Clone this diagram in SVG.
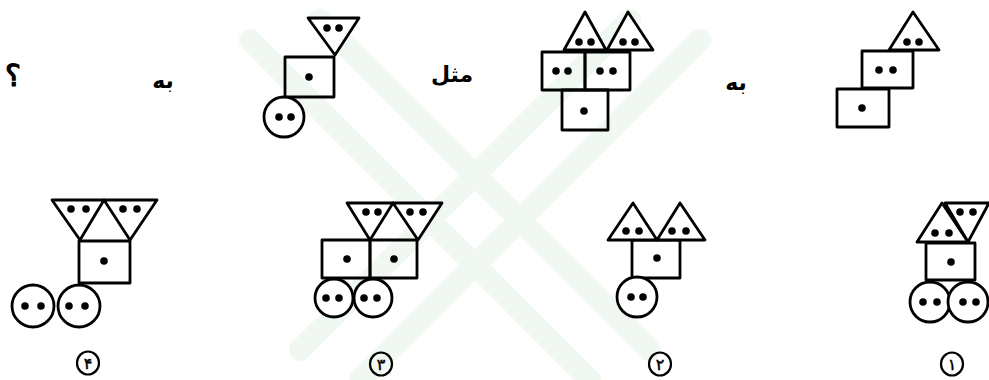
<svg xmlns="http://www.w3.org/2000/svg" width="989" height="380" viewBox="0 0 989 380">
<style>
.s{fill:none;stroke:#000;stroke-width:2.8;stroke-linejoin:round}
.w{fill:#fff;stroke:#000;stroke-width:2.8;stroke-linejoin:round}
.d{fill:#000}
.t{font-family:"DejaVu Sans","Noto Sans",sans-serif;font-weight:bold;fill:#000;text-anchor:middle}
.q{font-family:"DejaVu Sans",sans-serif;fill:#000;stroke:#000;stroke-width:1.2;text-anchor:middle}
.n{font-family:"DejaVu Sans","Noto Sans",sans-serif;fill:#000;stroke:#000;stroke-width:0.5;text-anchor:middle;font-size:16px}
.l{fill:none;stroke:#000;stroke-width:2.2}
.wm{fill:none;stroke:#f1f8f1;stroke-linecap:round}
</style>
<rect width="989" height="380" fill="#fff"/>
<g id="watermark">
<path class="wm" stroke-width="22" d="M250 40 L590 380"/>
<path class="wm" stroke-width="22" d="M320 20 L650 350"/>
<path class="wm" stroke-width="22" d="M700 40 L360 380"/>
<path class="wm" stroke-width="22" d="M630 20 L300 350"/>
</g>
<g id="fig1">
<rect class="s" x="837" y="89" width="52" height="38"/>
<rect class="w" x="862" y="51" width="51" height="37"/>
<polygon class="w" points="913,12 889,50 939,50"/>
<circle class="d" cx="862" cy="108" r="3.8"/>
<circle class="d" cx="879" cy="70" r="3.8"/><circle class="d" cx="893" cy="70" r="3.8"/>
<circle class="d" cx="907" cy="42" r="3.8"/><circle class="d" cx="919" cy="42" r="3.8"/>
</g>
<g id="fig2">
<rect class="s" x="562" y="90" width="46" height="40"/>
<rect class="s" x="542" y="52" width="43" height="38"/>
<rect class="s" x="585" y="52" width="45" height="38"/>
<polygon class="w" points="585,12 564,50 606,50"/>
<polygon class="w" points="628,12 607,50 653,50"/>
<circle class="d" cx="584" cy="111" r="3.8"/>
<circle class="d" cx="556" cy="71" r="3.8"/><circle class="d" cx="568" cy="71" r="3.8"/>
<circle class="d" cx="600" cy="71" r="3.8"/><circle class="d" cx="613" cy="71" r="3.8"/>
<circle class="d" cx="579" cy="42" r="3.8"/><circle class="d" cx="591" cy="42" r="3.8"/>
<circle class="d" cx="623" cy="42" r="3.8"/><circle class="d" cx="635" cy="42" r="3.8"/>
</g>
<g id="fig3">
<rect class="s" x="285" y="57" width="49" height="40"/>
<polygon class="w" points="308,18 359,18 335,55"/>
<circle class="w" cx="284" cy="117" r="20"/>
<circle class="d" cx="309" cy="77" r="3.8"/>
<circle class="d" cx="327" cy="28" r="3.8"/><circle class="d" cx="339" cy="28" r="3.8"/>
<circle class="d" cx="279" cy="117" r="3.8"/><circle class="d" cx="291" cy="117" r="3.8"/>
</g>
<g id="texts">
<text class="t" x="736" y="90" font-size="22">به</text>
<text class="t" x="452" y="82" font-size="22">مثل</text>
<text class="t" x="163" y="88" font-size="22">به</text>
<text class="q" x="13" y="86" font-size="30">؟</text>
</g>
<g id="opt1">
<rect class="s" x="926" y="243" width="49" height="37"/>
<polygon class="w" points="945,203 989,203 968,242"/>
<polygon class="w" points="942,203 917,242 968,242"/>
<circle class="w" cx="930" cy="302" r="20"/>
<circle class="w" cx="968" cy="302" r="20"/>
<circle class="d" cx="951" cy="262" r="3.8"/>
<circle class="d" cx="935" cy="233" r="3.8"/><circle class="d" cx="949" cy="233" r="3.8"/>
<circle class="d" cx="960" cy="212" r="3.8"/><circle class="d" cx="973" cy="212" r="3.8"/>
<circle class="d" cx="923" cy="302" r="3.8"/><circle class="d" cx="937" cy="302" r="3.8"/>
<circle class="d" cx="963" cy="302" r="3.8"/><circle class="d" cx="976" cy="302" r="3.8"/>
<ellipse class="l" cx="952" cy="364" rx="11" ry="11.5"/>
<text class="n" x="952" y="370">۱</text>
</g>
<g id="opt2">
<rect class="s" x="632" y="240" width="48" height="38"/>
<polygon class="w" points="633,203 608,240 657,240"/>
<polygon class="w" points="680,203 657,240 705,240"/>
<circle class="w" cx="637" cy="297" r="20"/>
<circle class="d" cx="657" cy="258" r="3.8"/>
<circle class="d" cx="626" cy="231" r="3.8"/><circle class="d" cx="639" cy="231" r="3.8"/>
<circle class="d" cx="672" cy="231" r="3.8"/><circle class="d" cx="686" cy="231" r="3.8"/>
<circle class="d" cx="631" cy="297" r="3.8"/><circle class="d" cx="643" cy="297" r="3.8"/>
<ellipse class="l" cx="660" cy="364" rx="11" ry="11.5"/>
<text class="n" x="660" y="370">۲</text>
</g>
<g id="opt3">
<rect class="s" x="322" y="240" width="48" height="38"/>
<rect class="s" x="370" y="240" width="47" height="38"/>
<polygon class="w" points="347,203 393,203 370,240"/>
<polygon class="w" points="393,203 442,203 418,240"/>
<circle class="w" cx="334" cy="298" r="19"/>
<circle class="w" cx="373" cy="298" r="19"/>
<circle class="d" cx="347" cy="259" r="3.8"/><circle class="d" cx="394" cy="259" r="3.8"/>
<circle class="d" cx="366" cy="212" r="3.8"/><circle class="d" cx="378" cy="212" r="3.8"/>
<circle class="d" cx="410" cy="212" r="3.8"/><circle class="d" cx="423" cy="212" r="3.8"/>
<circle class="d" cx="326" cy="298" r="3.8"/><circle class="d" cx="339" cy="298" r="3.8"/>
<circle class="d" cx="364" cy="298" r="3.8"/><circle class="d" cx="377" cy="298" r="3.8"/>
<ellipse class="l" cx="381" cy="364" rx="11" ry="11.5"/>
<text class="n" x="381" y="370">۳</text>
</g>
<g id="opt4">
<rect class="s" x="79" y="241" width="51" height="42"/>
<polygon class="w" points="52,200 104,200 80,240"/>
<polygon class="w" points="104,200 157,200 130,240"/>
<circle class="w" cx="33" cy="306" r="21"/>
<circle class="w" cx="79" cy="306" r="21"/>
<circle class="d" cx="104" cy="261" r="3.8"/>
<circle class="d" cx="71" cy="209" r="3.8"/><circle class="d" cx="86" cy="209" r="3.8"/>
<circle class="d" cx="123" cy="209" r="3.8"/><circle class="d" cx="137" cy="209" r="3.8"/>
<circle class="d" cx="25" cy="306" r="3.8"/><circle class="d" cx="41" cy="306" r="3.8"/>
<circle class="d" cx="69" cy="306" r="3.8"/><circle class="d" cx="85" cy="306" r="3.8"/>
<ellipse class="l" cx="88" cy="363" rx="11" ry="11.5"/>
<text class="n" x="88" y="369">۴</text>
</g>
</svg>
